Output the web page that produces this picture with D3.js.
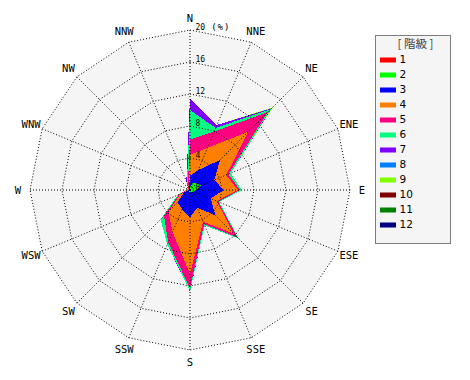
<!DOCTYPE html>
<html>
<head>
<meta charset="utf-8">
<script src="https://cdn.jsdelivr.net/npm/d3@7"></script>
<style>
  body { margin: 0; background: #fff; }
  svg { display: block; }
</style>
</head>
<body>
<svg width="470" height="380"></svg>
<script>
// Wind rose: 16 directions, frequency (%) stacked by class

const directions = ["N", "NNE", "NE", "ENE", "E", "ESE", "SE", "SSE",
                    "S", "SSW", "SW", "WSW", "W", "WNW", "NW", "NNW"];
const classes = ["1", "2", "3", "4", "5", "6", "7", "8", "9", "10", "11", "12"];
const classColors = ["#ff0000", "#00ff00", "#0000ff", "#ff8000", "#ff0080", "#00ff80",
                     "#8000ff", "#0080ff", "#80ff00", "#800000", "#008000", "#000080"];
const ticks = [0, 4, 8, 12, 16, 20];

// frequency per class, direction order N .. NNW
const class1  = [0.1, 0.1, 0.1, 0.1, 0.1, 0.1, 0.1, 0.1, 0.1, 0.1, 0.1, 0.05, 0.05, 0.05, 0.05, 0.05];
const class2  = [0.3, 0.9, 1.1, 1.4, 0.7, 0.4, 0.3, 0.2, 0.2, 0.1, 0.1, 0.05, 0.05, 0.05, 0.05, 0.1];
const class3  = [1.4, 1.7, 4.1, 1.8, 3.4, 2.3, 4.1, 2.1, 3.1, 2.4, 2.0, 0.7, 0.1, 0.05, 0.05, 0.15];
const class4  = [2.6, 3.0, 5.0, 1.6, 1.8, 0.8, 3.2, 1.9, 7.1, 3.1, 1.6, 0.5, 0.15, 0.05, 0.1, 0.2];
const class5  = [1.9, 2.2, 3.5, 0.3, 0.25, 0.2, 0.7, 0.3, 1.8, 1.4, 0.8, 0.2, 0.1, 0.05, 0.05, 0.2];
const class6  = [3.7, 0.5, 0.5, 0.3, 0.2, 0.15, 0.2, 0.2, 0.3, 0.3, 0.6, 0.2, 0.05, 0.05, 0.05, 0.3];
const class7  = [1.5, 0.4, 0.1, 0, 0, 0, 0, 0, 0.1, 0, 0, 0, 0, 0, 0, 0.2];
const class8  = [0, 0, 0.05, 0, 0, 0, 0, 0, 0, 0, 0, 0, 0, 0, 0, 0];
const class9  = [0, 0, 0.15, 0, 0, 0, 0, 0, 0, 0, 0, 0, 0, 0, 0, 0];
const class10 = [0, 0, 0, 0, 0, 0, 0, 0, 0, 0, 0, 0, 0, 0, 0, 0];
const class11 = [0, 0, 0, 0, 0, 0, 0, 0, 0, 0, 0, 0, 0, 0, 0, 0];
const class12 = [0, 0, 0, 0, 0, 0, 0, 0, 0, 0, 0, 0, 0, 0, 0, 0];

const freqs = [class1, class2, class3, class4, class5, class6,
               class7, class8, class9, class10, class11, class12];

const cx = 190, cy = 190;
const r = d3.scaleLinear().domain([0, 20]).range([0, 160]);
const angle = i => i * 2 * Math.PI / directions.length;

const svg = d3.select("svg");
const g = svg.append("g").attr("transform", `translate(${cx},${cy})`);

// rows for d3.stack
const rows = directions.map((d, i) => {
  const row = { dir: d };
  classes.forEach((c, k) => row[c] = freqs[k][i]);
  return row;
});
const series = d3.stack().keys(classes)(rows);

const ring = d3.lineRadial()
    .angle((d, i) => angle(i))
    .radius(d => r(d))
    .curve(d3.curveLinearClosed);

// background
g.append("path")
    .attr("d", ring(directions.map(() => 20)))
    .attr("fill", "#f5f5f5");

// stacked polygons, outermost class first
const area = d3.lineRadial()
    .angle((d, i) => angle(i))
    .radius(d => r(d[1]))
    .curve(d3.curveLinearClosed);

g.append("g")
  .selectAll("path")
  .data(series.slice().reverse())
  .join("path")
    .attr("d", area)
    .attr("fill", d => classColors[d.index])
    .attr("shape-rendering", "crispEdges");

// grid
const grid = g.append("g")
    .attr("fill", "none")
    .attr("stroke", "#000")
    .attr("stroke-dasharray", "1,2");

grid.selectAll("path")
  .data(ticks.filter(t => t > 0))
  .join("path")
    .attr("d", t => ring(directions.map(() => t)));

grid.selectAll("line")
  .data(directions)
  .join("line")
    .attr("x1", 0).attr("y1", 0)
    .attr("x2", (d, i) => r(20) * Math.sin(angle(i)))
    .attr("y2", (d, i) => -r(20) * Math.cos(angle(i)));

// direction labels
g.append("g")
    .attr("font-family", "'DejaVu Sans Mono', monospace")
    .attr("font-size", 10.5)
    .attr("text-anchor", "middle")
  .selectAll("text")
  .data(directions)
  .join("text")
    .attr("x", (d, i) => 172 * Math.sin(angle(i)))
    .attr("y", (d, i) => -172 * Math.cos(angle(i)))
    .attr("dy", "0.35em")
    .text(d => d);

// tick labels along the N axis
const tickText = g.append("g")
    .attr("font-family", "'DejaVu Sans Mono', monospace")
    .attr("font-size", 8)
  .selectAll("text")
  .data(ticks)
  .join("text")
    .attr("x", 5.5)
    .attr("y", t => -r(t) - 0.5)
    .text(t => t);
tickText.filter(t => t === 20)
  .append("tspan")
    .attr("dx", 6)
    .attr("font-size", 9)
    .attr("letter-spacing", 1)
    .text("(%)");

// legend
const legend = svg.append("g").attr("transform", "translate(375.5,35.5)");
legend.append("rect")
    .attr("width", 75).attr("height", 208)
    .attr("fill", "#f5f5f5")
    .attr("stroke", "#000")
    .attr("stroke-dasharray", "1,1");
legend.append("text")
    .attr("x", 40).attr("y", 12)
    .attr("text-anchor", "middle")
    .attr("font-family", "'Noto Sans CJK JP', sans-serif")
    .attr("font-size", 11.5)
    .attr("fill", "#444")
    .text("[ 階級 ]");

const item = legend.selectAll(".item")
  .data(classes)
  .join("g")
    .attr("class", "item")
    .attr("transform", (d, i) => `translate(0,${24 + i * 15})`);
item.append("rect")
    .attr("x", 4.5).attr("y", -2)
    .attr("width", 16).attr("height", 5)
    .attr("fill", (d, i) => classColors[i]);
item.append("text")
    .attr("x", 24)
    .attr("dy", "0.35em")
    .attr("font-family", "'DejaVu Sans', sans-serif")
    .attr("font-size", 10.5)
    .text(d => d);
</script>
</body>
</html>
